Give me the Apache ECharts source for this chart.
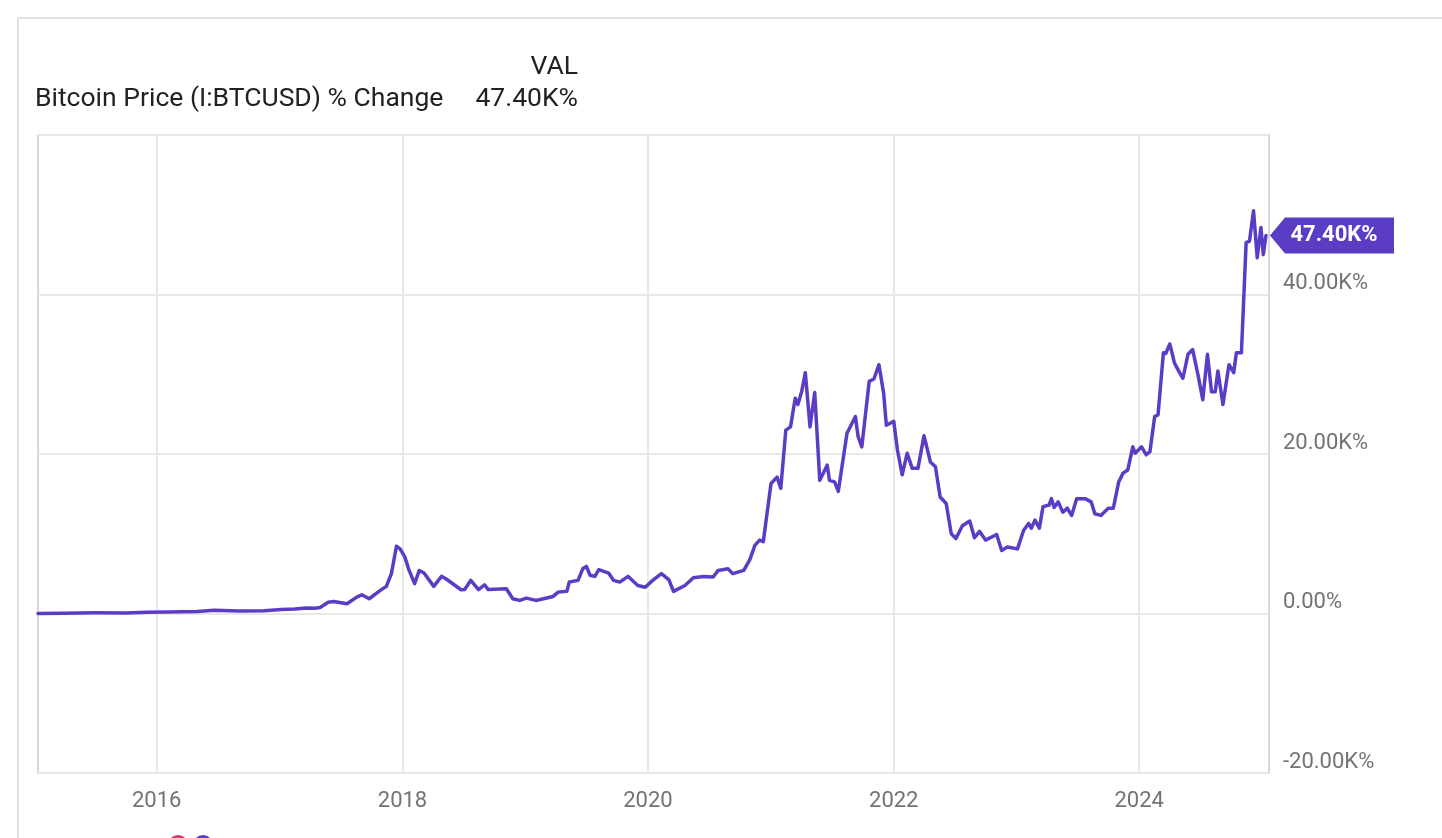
<!DOCTYPE html>
<html><head><meta charset="utf-8">
<script src="https://cdn.jsdelivr.net/npm/echarts@6/dist/echarts.min.js"></script>
<style>html,body{margin:0;padding:0;background:#fff;}#c{width:1442px;height:838px;}</style>
</head><body><div id="c"></div>
<script>
const seriesName = 'Bitcoin Price (I:BTCUSD) % Change';
const dates = [
'2015-01-13','2015-04-01','2015-07-01','2015-10-01','2015-12-01','2016-02-01','2016-05-01','2016-06-20','2016-09-01','2016-11-15',
'2017-01-05','2017-02-15','2017-03-20','2017-04-15','2017-05-01','2017-05-25','2017-06-10','2017-07-20','2017-08-18','2017-09-02',
'2017-09-24','2017-10-27','2017-11-14','2017-11-29','2017-12-14','2017-12-25','2018-01-08','2018-01-19','2018-02-06','2018-02-20',
'2018-03-06','2018-04-04','2018-04-27','2018-05-10','2018-06-24','2018-07-05','2018-07-23','2018-08-15','2018-09-02','2018-09-13',
'2018-11-06','2018-11-25','2018-12-16','2019-01-04','2019-02-02','2019-03-25','2019-04-09','2019-05-05','2019-05-12','2019-06-07',
'2019-06-21','2019-07-02','2019-07-13','2019-07-27','2019-08-08','2019-09-06','2019-09-21','2019-10-09','2019-11-03','2019-12-02',
'2019-12-24','2020-01-15','2020-02-10','2020-03-03','2020-03-17','2020-04-20','2020-05-15','2020-06-14','2020-07-13','2020-07-28',
'2020-08-26','2020-09-09','2020-10-12','2020-10-30','2020-11-14','2020-11-28','2020-12-09','2021-01-01','2021-01-19','2021-01-30',
'2021-02-14','2021-02-28','2021-03-14','2021-03-22','2021-04-02','2021-04-13','2021-04-27','2021-05-11','2021-05-26','2021-06-17',
'2021-06-24','2021-07-09','2021-07-20','2021-08-15','2021-09-09','2021-09-17','2021-09-28','2021-10-20','2021-11-03','2021-11-18',
'2021-12-02','2021-12-10','2022-01-01','2022-01-12','2022-01-26','2022-02-10','2022-02-25','2022-03-14','2022-04-01','2022-04-20',
'2022-05-05','2022-05-19','2022-06-06','2022-06-21','2022-07-05','2022-07-24','2022-08-15','2022-08-29','2022-09-13','2022-10-01',
'2022-11-03','2022-11-18','2022-12-05','2023-01-04','2023-01-22','2023-02-06','2023-02-14','2023-02-25','2023-03-10','2023-03-21',
'2023-04-08','2023-04-15','2023-04-23','2023-05-05','2023-05-19','2023-06-01','2023-06-14','2023-06-29','2023-07-24','2023-08-11',
'2023-08-22','2023-09-09','2023-10-01','2023-10-16','2023-11-01','2023-11-14','2023-11-28','2023-12-13','2023-12-20','2024-01-08',
'2024-01-22','2024-02-02','2024-02-16','2024-02-26','2024-03-13','2024-03-20','2024-04-01','2024-04-15','2024-04-30','2024-05-10',
'2024-05-25','2024-06-08','2024-06-24','2024-07-08','2024-07-22','2024-08-03','2024-08-14','2024-08-22','2024-09-06','2024-09-24',
'2024-10-08','2024-10-16','2024-10-31','2024-11-14','2024-11-24','2024-12-06','2024-12-17','2024-12-28','2025-01-04','2025-01-12'
];
const values = [
0,20,80,60,150,200,250,400,300,350,
500,550,700,650,750,1400,1500,1220,2050,2350,
1850,2900,3400,5000,8430,8100,7100,5600,3740,5400,
5070,3400,4650,4360,2980,3000,4150,3000,3600,3000,
3100,1850,1640,1930,1640,2140,2680,2800,3940,4150,
5600,5900,4800,4650,5500,5070,4150,3940,4650,3520,
3300,4150,5000,4240,2770,3520,4490,4650,4570,5400,
5600,5000,5400,6750,8550,9200,9000,16300,17100,15700,
23000,23400,27000,26200,27800,30200,23400,27700,16700,18600,
16700,16500,15300,22600,24700,22200,20900,29100,29400,31200,
27600,23600,24100,20500,17400,20100,18200,18200,22300,19000,
18400,14600,13800,10000,9400,11000,11600,9500,10300,9200,
9900,7900,8350,8100,10400,11300,10700,11700,10700,13400,
13600,14400,13300,14000,12700,13200,12300,14400,14400,14000,
12500,12300,13200,13200,16500,17600,18000,20900,20100,20900,
19900,20300,24700,24900,32700,32600,33800,31400,30200,29500,
32500,33100,29900,26800,32500,27800,27800,30400,26200,31200,
30200,32700,32700,46500,46700,50500,44600,48400,45000,47400
];
const yearTicks = ['2016-01-01','2018-01-01','2020-01-01','2022-01-01','2024-01-01'];
const xMin = '2015-01-13';
const xMax = '2025-01-21';
const yMin = -20000, yMax = 60000, yStep = 20000;

function fmt(v){
  if (Math.abs(v) >= 1000) return (v/1000).toFixed(2) + 'K%';
  return v.toFixed(2) + '%';
}
const lineColor = '#5b3cc4';
const last = values.length - 1;

const chart = echarts.init(document.getElementById('c'));
chart.setOption({
  animation: false,
  textStyle: {fontFamily: 'Roboto'},
  grid: {left: 38, right: 173, top: 135, bottom: 65, show: true, borderColor: '#d9d9d9', borderWidth: 2, containLabel: false},
  xAxis: {
    type: 'time',
    min: xMin, max: xMax,
    axisLine: {show: false},
    axisTick: {show: false},
    axisLabel: {show: false},
    splitLine: {show: false}
  },
  yAxis: {
    type: 'value', position: 'right',
    min: yMin, max: yMax, interval: yStep,
    axisLine: {show: false}, axisTick: {show: false},
    axisLabel: {formatter: v => v === yMax ? '' : fmt(v), color: '#737373', fontSize: 22, margin: 14,
      verticalAlign: 'bottom', fontFamily: 'Roboto'},
    splitLine: {show: true, lineStyle: {color: '#e8e8e8', width: 2}}
  },
  series: [{
    name: 'years', type: 'line', z: 0, data: [],
    markLine: {
      z: 0,
      silent: true, symbol: 'none', animation: false,
      lineStyle: {color: '#e8e8e8', width: 2, type: 'solid'},
      label: {show: true, position: 'start', distance: 17, color: '#737373', fontSize: 22, fontFamily: 'Roboto',
        formatter: p => String(new Date(p.value).getFullYear())},
      emphasis: {disabled: true},
      data: yearTicks.map(d => ({xAxis: d}))
    }
  }, {
    name: seriesName, type: 'line', z: 6, showSymbol: false, symbol: 'none',
    lineStyle: {color: lineColor, width: 3.5, join: 'round', cap: 'round'}, itemStyle: {color: lineColor},
    data: dates.map((d, i) => [d, values[i]]),
    markPoint: {
      silent: true, z: 7,
      symbol: 'path://M0,18 L15,0 L124,0 L124,36 L15,36 Z',
      symbolSize: [124, 36], symbolOffset: [66, 0],
      itemStyle: {color: lineColor},
      label: {show: true, color: '#fff', fontWeight: 'bold', fontSize: 22, fontFamily: 'Roboto', offset: [2, 0],
        formatter: p => fmt(p.value)},
      data: [{coord: [dates[last], values[last]], value: values[last]}]
    }
  }],
  graphic: [
    {type: 'rect', shape: {x: 18, y: 18, width: 1500, height: 900}, style: {fill: 'none', stroke: '#e2e2e2', lineWidth: 2}, silent: true},
    {type: 'text', x: 35, y: 99, style: {text: seriesName, font: '26.5px Roboto', fill: '#222', align: 'left', verticalAlign: 'middle'}},
    {type: 'text', x: 578, y: 67, style: {text: 'VAL', font: '26.5px Roboto', fill: '#222', align: 'right', verticalAlign: 'middle'}},
    {type: 'text', x: 578, y: 99, style: {text: fmt(values[last]), font: '26.5px Roboto', fill: '#222', align: 'right', verticalAlign: 'middle'}},
    {type: 'circle', shape: {cx: 178, cy: 845, r: 10}, style: {fill: '#d9386f'}},
    {type: 'circle', shape: {cx: 203, cy: 845, r: 10}, style: {fill: lineColor}}
  ]
});
</script></body></html>
